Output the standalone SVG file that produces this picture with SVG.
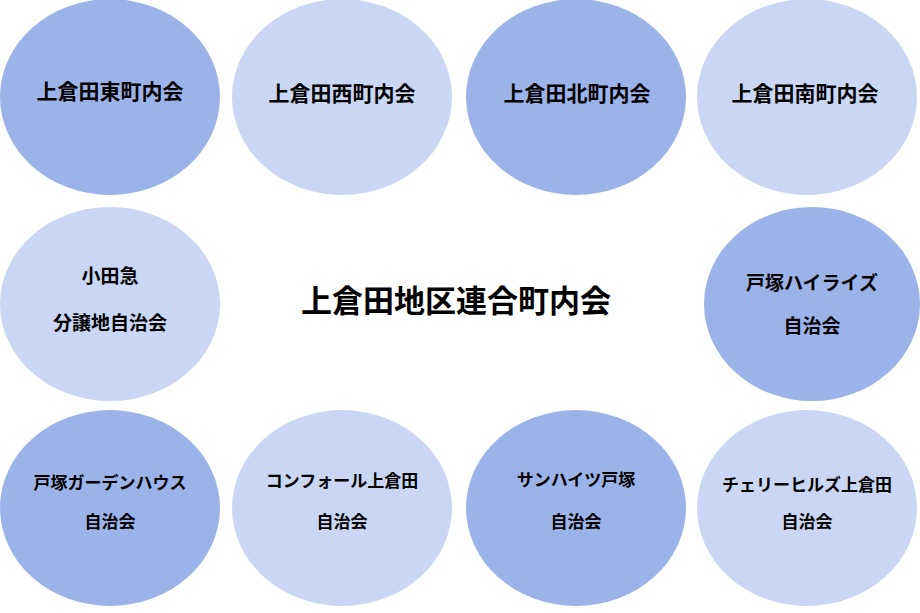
<svg xmlns="http://www.w3.org/2000/svg" width="920" height="613" viewBox="0 0 920 613">
<style>
.d{fill:#9cb3ea}.l{fill:#c9d7f4}
text{font-family:"Noto Sans CJK JP","Noto Sans",sans-serif;font-weight:bold;fill:#000;text-anchor:middle}
.t1{font-size:21px}.t2{font-size:19px}.t3{font-size:17px}.tt{font-size:31px}
</style>
<rect width="920" height="613" fill="#fff"/>
<g id="n1"><ellipse class="d" cx="110" cy="97" rx="110" ry="98"/><text class="t1" x="110" y="99">上倉田東町内会</text></g>
<g id="n2"><ellipse class="l" cx="342" cy="97" rx="110" ry="98"/><text class="t1" x="342" y="101">上倉田西町内会</text></g>
<g id="n3"><ellipse class="d" cx="576" cy="97" rx="110" ry="98"/><text class="t1" x="577" y="101">上倉田北町内会</text></g>
<g id="n4"><ellipse class="l" cx="807" cy="97" rx="110" ry="98"/><text class="t1" x="805" y="101">上倉田南町内会</text></g>
<g id="n5"><ellipse class="l" cx="110" cy="304" rx="110" ry="97"/><text class="t2" x="110" y="283">小田急</text><text class="t2" x="110" y="330">分譲地自治会</text></g>
<g id="n6"><ellipse class="d" cx="812" cy="304" rx="108" ry="97"/><text class="t2" x="812" y="290">戸塚ハイライズ</text><text class="t2" x="812" y="333">自治会</text></g>
<g id="n7"><ellipse class="d" cx="110" cy="508" rx="110" ry="98"/><text class="t3" x="110" y="489">戸塚ガーデンハウス</text><text class="t3" x="110" y="528">自治会</text></g>
<g id="n8"><ellipse class="l" cx="342" cy="508" rx="110" ry="98"/><text class="t3" x="342" y="487">コンフォール上倉田</text><text class="t3" x="342" y="528">自治会</text></g>
<g id="n9"><ellipse class="d" cx="576" cy="508" rx="110" ry="98"/><text class="t3" x="576" y="486">サンハイツ戸塚</text><text class="t3" x="576" y="528">自治会</text></g>
<g id="n10"><ellipse class="l" cx="807" cy="508" rx="110" ry="98"/><text class="t3" x="807" y="491">チェリーヒルズ上倉田</text><text class="t3" x="807" y="528">自治会</text></g>
<g id="title"><text class="tt" x="456" y="312">上倉田地区連合町内会</text></g>
<g id="connectors"/>
</svg>
